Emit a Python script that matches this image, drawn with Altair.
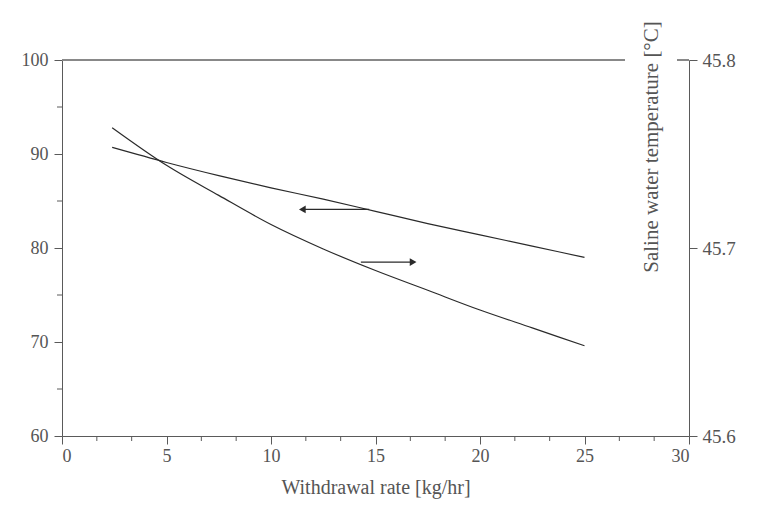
import altair as alt
import pandas as pd

# ---- data ----
rate = [2.4, 5, 7.5, 10, 12.5, 15, 17.5, 20, 22.5, 25]
recovery = [90.7, 89.1, 87.7, 86.4, 85.2, 83.9, 82.6, 81.4, 80.2, 79.0]
temperature = [45.764, 45.744, 45.728, 45.7125, 45.6995, 45.688, 45.6775, 45.667, 45.6575, 45.648]

arrow_left_x = [14.7, 11.5]      # tail, head (points to left axis)
arrow_left_y = [84.1]
arrow_right_x = [14.3, 16.8]     # tail, head (points to right axis)
arrow_right_y = [45.6925]

x_ticks = [0, 5, 10, 15, 20, 25, 30]
x_minor = [round(i * 5 / 3, 3) for i in range(1, 18) if i % 3 != 0]
y_left_ticks = [60, 70, 80, 90, 100]
y_left_minor = [65, 75, 85, 95]
y_right_ticks = [45.6, 45.7, 45.8]

FONT = "Liberation Serif"
AX = "#5a5a5a"
TXT = "#555"
LINE = "#2a2a2a"

df_a = pd.DataFrame({"rate": rate, "recovery": recovery})
df_b = pd.DataFrame({"rate": rate, "temperature": temperature})
df_al = pd.DataFrame({"x1": [arrow_left_x[0]], "x2": [arrow_left_x[1]], "y": arrow_left_y})
df_ar = pd.DataFrame({"x1": [arrow_right_x[0]], "x2": [arrow_right_x[1]], "y": arrow_right_y})
df_xm = pd.DataFrame({"xm": x_minor})
df_ym = pd.DataFrame({"ym": y_left_minor})

common = dict(domainColor=AX, tickColor=AX, labelColor=TXT, labelFont=FONT,
              labelFontSize=18, tickSize=8, grid=False, titleFont=FONT,
              titleFontSize=20, titleFontWeight="normal", titleColor=TXT)

x_axis = alt.Axis(values=x_ticks, labelPadding=3, title="Withdrawal rate [kg/hr]",
                  titlePadding=12, **common)
x_scale = alt.Scale(domain=[0, 30], nice=False, zero=False)
yl_axis = alt.Axis(orient="left", values=y_left_ticks, labelPadding=6, title=None, **common)
yl_scale = alt.Scale(domain=[60, 100], nice=False, zero=False)
yr_axis = alt.Axis(orient="right", values=y_right_ticks, format=".1f", labelPadding=5,
                   title=None, **{**common, "labelFontSize": 19})
yr_scale = alt.Scale(domain=[45.6, 45.8], nice=False, zero=False)

X = lambda f: alt.X(f, scale=x_scale, axis=x_axis)

top_rule = alt.Chart(df_a).mark_rule(color="#888", strokeWidth=1).encode(
    x=alt.value(0), x2=alt.value(627), y=alt.value(0))

line_a = alt.Chart(df_a).mark_line(color=LINE, strokeWidth=1.2, interpolate="monotone").encode(
    x=X("rate:Q"), y=alt.Y("recovery:Q", scale=yl_scale, axis=yl_axis))

arr_l = alt.Chart(df_al).mark_rule(color=LINE, strokeWidth=1.2).encode(
    x=X("x1:Q"), x2="x2:Q", y=alt.Y("y:Q", scale=yl_scale, axis=yl_axis))
arr_l_head = alt.Chart(df_al).mark_point(shape="triangle-left", filled=True, size=60,
                                         color=LINE, opacity=1).encode(
    x=X("x2:Q"), y=alt.Y("y:Q", scale=yl_scale, axis=yl_axis))

x_minor_ticks = alt.Chart(df_xm).mark_rule(color=AX).encode(
    x=X("xm:Q"), y=alt.value(376), y2=alt.value(381))
y_minor_ticks = alt.Chart(df_ym).mark_rule(color=AX).encode(
    y=alt.Y("ym:Q", scale=yl_scale, axis=yl_axis), x=alt.value(0), x2=alt.value(-5))

left = alt.layer(top_rule, line_a, arr_l, arr_l_head, x_minor_ticks, y_minor_ticks)

line_b = alt.Chart(df_b).mark_line(color=LINE, strokeWidth=1.2, interpolate="monotone").encode(
    x=X("rate:Q"), y=alt.Y("temperature:Q", scale=yr_scale, axis=yr_axis))
arr_r = alt.Chart(df_ar).mark_rule(color=LINE, strokeWidth=1.2).encode(
    x=X("x1:Q"), x2="x2:Q", y=alt.Y("y:Q", scale=yr_scale, axis=yr_axis))
arr_r_head = alt.Chart(df_ar).mark_point(shape="triangle-right", filled=True, size=60,
                                         color=LINE, opacity=1).encode(
    x=X("x2:Q"), y=alt.Y("y:Q", scale=yr_scale, axis=yr_axis))

gap = alt.Chart(df_ar).mark_rect(color="white").encode(
    x=alt.value(563), x2=alt.value(615), y=alt.value(-3), y2=alt.value(3))
right_title = alt.Chart(df_ar).mark_text(angle=270, font=FONT, fontSize=21, color=TXT,
                                         align="center", baseline="middle").encode(
    x=alt.value(590), y=alt.value(87), text=alt.value("Saline water temperature [°C]"))

right = alt.layer(line_b, arr_r, arr_r_head, gap, right_title)

chart = alt.layer(left, right).resolve_scale(y="independent").properties(
    width=627, height=376,
    autosize=alt.AutoSizeParams(type="none"),
    padding={"left": 62, "top": 60, "right": 76, "bottom": 82},
).configure_view(stroke=None)

chart.save("out.html", embed_options={"renderer": "svg", "actions": False})
